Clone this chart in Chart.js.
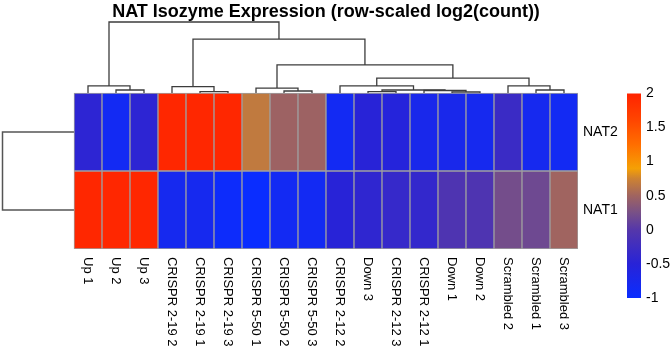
<!DOCTYPE html>
<html>
<head>
<meta charset="utf-8">
<script src="https://cdn.jsdelivr.net/npm/chart.js@4.4.0/dist/chart.umd.min.js"></script>
<style>
  html, body { margin: 0; padding: 0; background: #fff; }
  #wrap { position: relative; width: 671px; height: 351px; }
  #heat { position: absolute; left: 0; top: 0; }
  #bar { position: absolute; left: 600px; top: 80px; }
</style>
</head>
<body>
<div id="wrap">
  <canvas id="heat" width="671" height="351"></canvas>
  <canvas id="bar" width="71" height="240"></canvas>
</div>
<script>
const title = 'NAT Isozyme Expression (row-scaled log2(count))';

// columns in dendrogram order
const samples = ['Up 1', 'Up 2', 'Up 3', 'CRISPR 2-19 2', 'CRISPR 2-19 1', 'CRISPR 2-19 3',
    'CRISPR 5-50 1', 'CRISPR 5-50 2', 'CRISPR 5-50 3', 'CRISPR 2-12 2', 'Down 3', 'CRISPR 2-12 3',
    'CRISPR 2-12 1', 'Down 1', 'Down 2', 'Scrambled 2', 'Scrambled 1', 'Scrambled 3'];

// rows, bottom to top
const genes = ['NAT1', 'NAT2'];

const nat1 = [1.95, 1.95, 1.95, -0.8, -0.8, -0.95, -1.0, -0.85, -0.85, -0.5, -0.42, -0.35,
    -0.38, -0.08, -0.08, 0.22, 0.18, 0.5];
const nat2 = [-0.45, -0.85, -0.45, 1.95, 1.95, 1.95, 0.68, 0.48, 0.48, -0.85, -0.5, -0.55,
    -0.75, -0.75, -0.8, -0.3, -0.8, -0.85];

// dendrogram merges: [left, right, height]; numbers are leaves, 'mN' is merge N
const colMerges = [
    [1, 2, 0.42],
    [0, 'm0', 1.0],
    [4, 5, 0.2],
    [3, 'm2', 0.9],
    [7, 8, 0.28],
    [6, 'm4', 0.7],
    [13, 14, 0.14],
    [12, 'm6', 0.35],
    [10, 11, 0.2],
    ['m8', 'm7', 0.42],
    [9, 'm9', 1.0],
    [16, 17, 0.42],
    [15, 'm11', 1.0],
    ['m10', 'm12', 2.1],
    ['m5', 'm13', 3.95],
    ['m3', 'm14', 7.6],
    ['m1', 'm15', 10]
];
const rowMerges = [[0, 1, 1]];

// colour key
const scaleMin = -1;
const scaleMax = 2;
const colorStops = [-1, -0.5, 0, 0.25, 0.5, 0.75, 0.9, 1.25, 1.6, 2];
const stopColors = [[10, 45, 255], [40, 35, 215], [85, 55, 170], [120, 80, 135], [160, 100, 96],
    [205, 130, 50], [245, 160, 5], [255, 110, 0], [255, 70, 0], [255, 35, 0]];

// layout (page pixels)
const LEFT = 1, TOP = 18, HEAT_L = 74, HEAT_R = 578, HEAT_T = 93, HEAT_B = 249;
const ROOT_Y = 22, ROW_ROOT_X = 2.5;
const FONT = '"Liberation Sans", Arial, sans-serif';

function colorFor(v) {
    let i = 0;
    while (i < colorStops.length - 2 && v > colorStops[i + 1]) i++;
    const t = Math.min(1, Math.max(0, (v - colorStops[i]) / (colorStops[i + 1] - colorStops[i])));
    const a = stopColors[i], b = stopColors[i + 1];
    const c = a.map((x, k) => Math.round(x + (b[k] - x) * t));
    return `rgb(${c[0]}, ${c[1]}, ${c[2]})`;
}

function buildTree(merges, leafOffset) {
    const nodes = [];
    const segs = [];
    const pos = ref => typeof ref === 'number' ? { p: ref + leafOffset, h: 0 } : nodes[+ref.slice(1)];
    merges.forEach(([a, b, h]) => {
        const l = pos(a), r = pos(b);
        segs.push([[l.p, l.h], [l.p, h], [r.p, h], [r.p, r.h]]);
        nodes.push({ p: (l.p + r.p) / 2, h });
    });
    return segs;
}

const colW = (HEAT_R - HEAT_L) / samples.length;
const rowH = (HEAT_B - HEAT_T) / genes.length;
const colTop = Math.max(...colMerges.map(m => m[2]));
const dendPx = (HEAT_T - ROOT_Y) / colTop;
const rowTop = Math.max(...rowMerges.map(m => m[2]));
const rowPx = (HEAT_L - ROW_ROOT_X) / rowTop;

const lineStyle = { type: 'line', pointRadius: 0, borderWidth: 1.3, fill: false, tension: 0 };

const topDend = buildTree(colMerges, 0).map(seg => ({
    ...lineStyle,
    xAxisID: 'x', yAxisID: 'yD',
    borderColor: '#3c3c3c',
    data: seg.map(([p, h]) => ({ x: p, y: h }))
}));

const leftDend = buildTree(rowMerges, 0.5).map(seg => ({
    ...lineStyle,
    xAxisID: 'xL', yAxisID: 'y',
    borderColor: '#555555',
    borderWidth: 1.5,
    data: seg.map(([p, h]) => ({ x: h, y: p }))
}));

const rows = [nat1, nat2].map((vals, r) => ({
    type: 'bar',
    label: genes[r],
    xAxisID: 'x', yAxisID: 'y',
    data: vals.map((v, i) => ({ x: i, y: [r, r + 1] })),
    backgroundColor: vals.map(colorFor),
    borderColor: '#a0a0a0',
    borderWidth: 1,
    borderSkipped: false,
    grouped: false,
    barPercentage: 1,
    categoryPercentage: 1
}));

const labelPlugin = {
    id: 'heatLabels',
    afterDraw(chart) {
        const { ctx, scales: { x, y } } = chart;
        const left = x.getPixelForValue(-0.5);
        const right = x.getPixelForValue(samples.length - 0.5);
        ctx.save();
        ctx.fillStyle = '#000';
        ctx.textAlign = 'center';
        ctx.textBaseline = 'alphabetic';
        ctx.font = 'bold 18px ' + FONT;
        ctx.fillText(title, (left + right) / 2, 17);

        ctx.textBaseline = 'middle';
        ctx.font = '14px ' + FONT;
        ctx.textAlign = 'left';
        genes.forEach((g, r) => ctx.fillText(g, right + 5, y.getPixelForValue(r + 0.5)));

        ctx.font = '13px ' + FONT;
        samples.forEach((s, i) => {
            ctx.save();
            ctx.translate(x.getPixelForValue(i), y.getPixelForValue(0) + 8);
            ctx.rotate(Math.PI / 2);
            ctx.fillText(s, 0, 0);
            ctx.restore();
        });
        ctx.restore();
    }
};

new Chart(document.getElementById('heat'), {
    type: 'bar',
    data: { datasets: [...rows, ...topDend, ...leftDend] },
    options: {
        responsive: false,
        animation: false,
        events: [],
        layout: { padding: { left: LEFT, top: TOP, right: 671 - HEAT_R, bottom: 351 - HEAT_B } },
        plugins: { legend: { display: false }, tooltip: { enabled: false } },
        scales: {
            x: {
                type: 'linear', display: false, offset: false,
                min: -0.5 - (HEAT_L - LEFT) / colW, max: samples.length - 0.5,
                ticks: { stepSize: 1, includeBounds: false }
            },
            y: {
                type: 'linear', display: false, offset: false,
                min: 0, max: (HEAT_B - TOP) / rowH
            },
            yD: {
                type: 'linear', axis: 'y', display: false, offset: false,
                min: -(HEAT_B - HEAT_T) / dendPx, max: (HEAT_T - TOP) / dendPx
            },
            xL: {
                type: 'linear', axis: 'x', display: false, offset: false, reverse: true,
                min: -(HEAT_R - HEAT_L) / rowPx, max: (HEAT_L - LEFT) / rowPx
            }
        }
    },
    plugins: [labelPlugin]
});

function keyGradient(chart) {
    const area = chart.chartArea;
    if (!area) return 'rgb(10, 45, 255)';
    const g = chart.ctx.createLinearGradient(0, area.bottom, 0, area.top);
    colorStops.forEach((v, i) => {
        const c = stopColors[i];
        g.addColorStop((v - scaleMin) / (scaleMax - scaleMin), `rgb(${c[0]}, ${c[1]}, ${c[2]})`);
    });
    return g;
}

new Chart(document.getElementById('bar'), {
    type: 'bar',
    data: {
        labels: [''],
        datasets: [{
            data: [[scaleMin, scaleMax]],
            backgroundColor: ctx => keyGradient(ctx.chart),
            borderWidth: 0,
            barPercentage: 1,
            categoryPercentage: 1
        }]
    },
    options: {
        responsive: false,
        animation: false,
        events: [],
        layout: { padding: { left: 27, top: 13, right: 0, bottom: 22 } },
        plugins: { legend: { display: false }, tooltip: { enabled: false } },
        scales: {
            x: { display: false },
            y: {
                position: 'right',
                min: scaleMin, max: scaleMax,
                afterFit: s => { s.width = 30; },
                grid: { display: false, drawTicks: false },
                border: { display: false },
                ticks: {
                    stepSize: 0.5, padding: 5, color: '#000',
                    font: { family: FONT, size: 14 },
                    callback: v => String(v)
                }
            }
        }
    }
});
</script>
</body>
</html>
